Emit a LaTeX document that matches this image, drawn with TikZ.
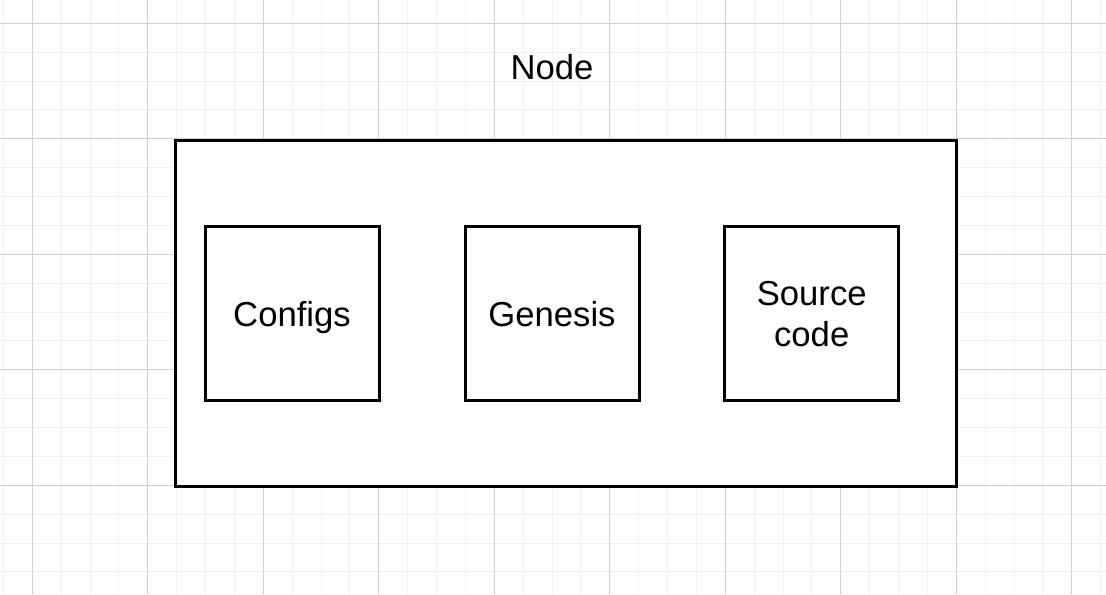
\documentclass[tikz,border=0pt]{standalone}
\usepackage{fontspec}
\setmainfont{Liberation Sans}
\definecolor{gridmajor}{RGB}{208,208,208}
\definecolor{gridminor}{RGB}{241,241,241}
\tikzset{every picture/.style={line width=0.75pt}}
\tikzset{
	box/.style={draw, fill=white, line width=2.25pt, inner sep=0pt, minimum width=130.5pt, minimum height=130.5pt, align=center, font=\fontsize{26}{31.3}\selectfont, text height=20.5pt, text depth=0pt},
	twoline/.style={text height=50.6pt, text depth=0pt},
	frame/.style={draw, fill=white, line width=2.25pt, inner sep=0pt, minimum width=585.4pt, minimum height=259.5pt},
	title/.style={inner sep=0pt, font=\fontsize{26}{31.3}\selectfont, text height=20.5pt, text depth=0pt}
}

\begin{document}
\begin{tikzpicture}[x=0.75pt,y=0.75pt,yscale=-1,xscale=1]
	\useasboundingbox (0,0) rectangle (1106,594);
	\fill[white] (0,0) rectangle (1106,594);
	%grid
	\foreach \i in {0,...,38} \draw[gridminor] (3.43+\i*28.875,0) -- (3.43+\i*28.875,594);
	\foreach \i in {0,...,19} \draw[gridminor] (0,23.3+\i*28.875) -- (1106,23.3+\i*28.875);
	\foreach \i in {0,...,9} \draw[gridmajor] (32.3+\i*115.5,0) -- (32.3+\i*115.5,594);
	\foreach \i in {0,...,4} \draw[gridmajor] (0,23.3+\i*115.5) -- (1106,23.3+\i*115.5);
	
	\node[frame] (frame) at (566.25,313) {};
	\node[title] (title) at (552,66.3) {Node};
	
	\node[box] (configs) at (292,313) {Configs};
	\node[box] (genesis) at (552,313) {Genesis};
	\node[box,twoline] (source) at (811.7,313) {Source\\code};
	
\end{tikzpicture}
\end{document}
